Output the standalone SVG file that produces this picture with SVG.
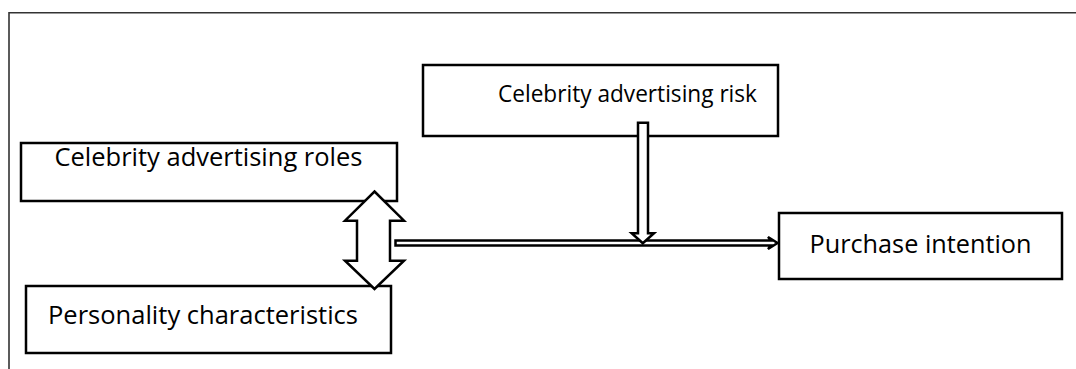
<svg xmlns="http://www.w3.org/2000/svg" width="1076" height="369" viewBox="0 0 1076 369">
<style>
.box{fill:#fff;stroke:#000;stroke-width:2.5}
.arr{fill:#fff;stroke:#000;stroke-width:2.5;stroke-linejoin:miter}
.lbl{font-family:"Open Sans","Liberation Sans",sans-serif;fill:#000}
.frame{fill:none;stroke:#333;stroke-width:1.6}
</style>
<rect width="1076" height="369" fill="#fff"/>
<path class="frame" d="M9,369 V12.7 H1076"/>
<g id="node-risk">
<rect class="box" x="423" y="65" width="355" height="71"/>
<text class="lbl" x="498" y="102" font-size="24" textLength="259" lengthAdjust="spacingAndGlyphs">Celebrity advertising risk</text>
</g>
<g id="node-roles">
<rect class="box" x="21" y="143" width="376" height="58"/>
<text class="lbl" x="54.5" y="166" font-size="25" textLength="308" lengthAdjust="spacingAndGlyphs">Celebrity advertising roles</text>
</g>
<g id="node-personality">
<rect class="box" x="26" y="286" width="365" height="67"/>
<text class="lbl" x="48" y="324" font-size="25" textLength="310" lengthAdjust="spacingAndGlyphs">Personality characteristics</text>
</g>
<g id="node-purchase">
<rect class="box" x="779" y="213" width="283" height="66"/>
<text class="lbl" x="809.5" y="252.5" font-size="25" textLength="222" lengthAdjust="spacingAndGlyphs">Purchase intention</text>
</g>
<g id="connectors">
<polygon class="arr" points="374.5,191.5 404,220.7 390,220.7 390,260.7 404,260.7 374.5,289 345,260.7 357,260.7 357,220.7 345,220.7"/>
<polygon class="arr" stroke-width="2" points="395.5,240.5 771,240.5 768,237 777.5,243 768,249 771,245.5 395.5,245.5"/>
<polygon class="arr" stroke-width="2.2" points="638,122.7 648,122.7 648,233.3 654,233.3 642.8,243.3 631.7,233.3 638,233.3"/>
</g>
</svg>
